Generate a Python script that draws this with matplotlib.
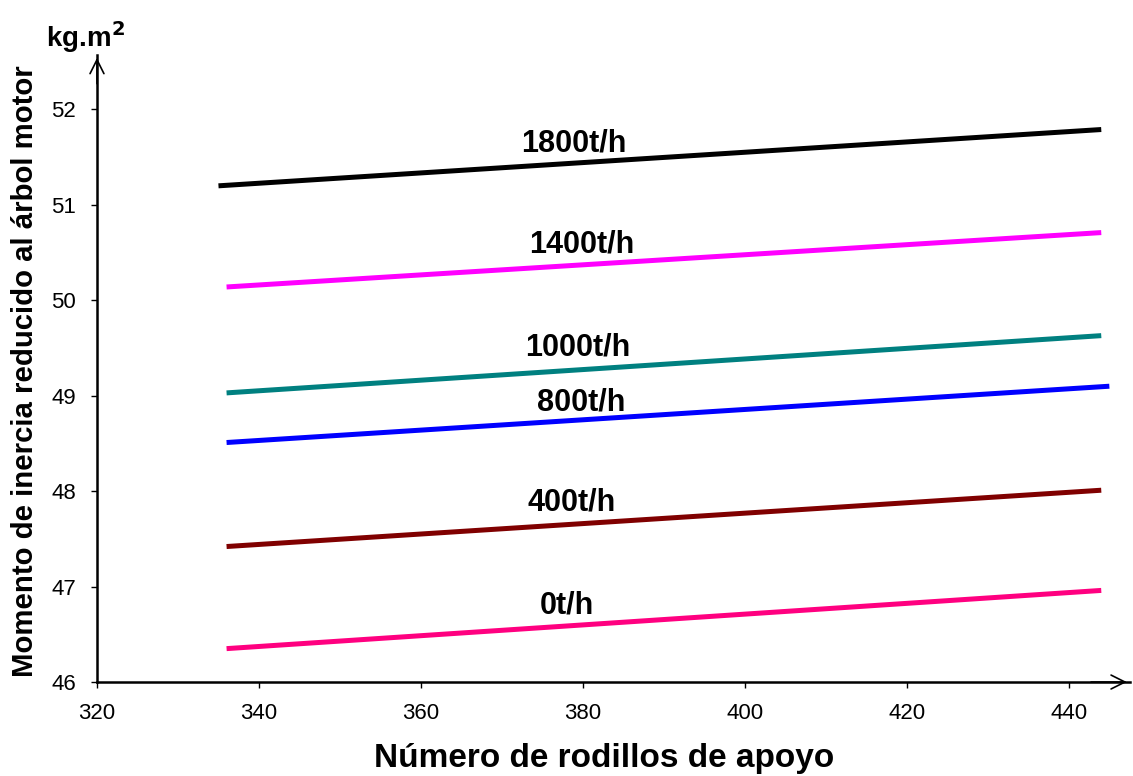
import matplotlib.pyplot as plt

# rollers (x) and inertia (kg.m2) for each load
labels = ['0t/h', '400t/h', '800t/h', '1000t/h', '1400t/h', '1800t/h']
colors = ['#ff0080', '#800000', '#0000ff', '#008080', '#ff00ff', '#000000']
x_start = [336, 336, 336, 336, 336, 335]
x_end = [444, 444, 445, 444, 444, 444]
y_start = [46.35, 47.42, 48.51, 49.03, 50.14, 51.20]
y_end = [46.96, 48.01, 49.10, 49.63, 50.71, 51.79]
label_x = [378.0, 378.6, 379.8, 379.4, 379.9, 378.9]
label_y = [46.72, 47.80, 48.85, 49.42, 50.50, 51.56]

fig = plt.figure(figsize=(11.33, 7.76), dpi=100)
ax = fig.add_axes([0.0856, 0.1211, 0.9144 - 0.003, 0.929 - 0.1211])

for i in range(len(labels)):
    ax.plot([x_start[i], x_end[i]], [y_start[i], y_end[i]], color=colors[i], lw=3.6,
            solid_capstyle='butt')
    ax.text(label_x[i], label_y[i], labels[i], fontsize=22, fontweight='bold',
            family='Liberation Sans', ha='center', va='baseline')

ax.set_xlim(320, 447.5)
ax.set_ylim(46, 52.57)
ax.set_xticks([320, 340, 360, 380, 400, 420, 440])
ax.set_yticks([46, 47, 48, 49, 50, 51, 52])
ax.tick_params(direction='out', length=4, width=1, labelsize=16, pad=11)
for lab in ax.get_xticklabels() + ax.get_yticklabels():
    lab.set_family('Liberation Sans')
ax.spines['top'].set_visible(False)
ax.spines['right'].set_visible(False)
ax.spines['left'].set_linewidth(1.8)
ax.spines['bottom'].set_linewidth(1.8)

# open arrowheads at the axis ends
ax.annotate('', xy=(1.0, 0), xytext=(0.96, 0), xycoords='axes fraction',
            arrowprops=dict(arrowstyle='->', lw=1.2, color='black', mutation_scale=25),
            annotation_clip=False)
ax.annotate('', xy=(0, 1.0), xytext=(0, 0.95), xycoords='axes fraction',
            arrowprops=dict(arrowstyle='->', lw=1.2, color='black', mutation_scale=25),
            annotation_clip=False)

fig.text(0.041, 0.9394, 'kg.m$^\\mathbf{2}$', fontsize=20, fontweight='bold',
         family='Liberation Sans', ha='left', va='baseline')
fig.text(0.533, 0.0116, 'Número de rodillos de apoyo', fontsize=24, fontweight='bold',
         family='Liberation Sans', ha='center', va='baseline')
fig.text(0.022, 0.522, 'Momento de inercia reducido al árbol motor', fontsize=21.2,
         fontweight='bold', family='Liberation Sans', rotation=90, ha='center', va='center')

fig.savefig('out.png', dpi=100)
